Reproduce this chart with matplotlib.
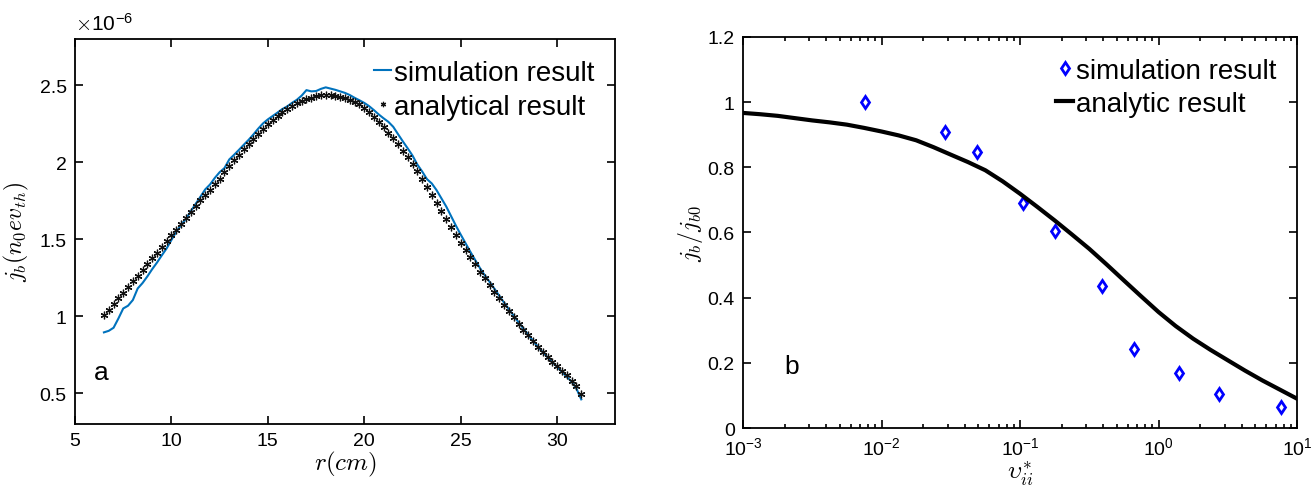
import numpy as np
import matplotlib
matplotlib.use("Agg")
import matplotlib.pyplot as plt
from matplotlib.ticker import LogLocator, NullFormatter, FixedLocator

plt.rcParams['font.family'] = ['Liberation Sans', 'DejaVu Sans']
plt.rcParams['mathtext.fontset'] = 'cm'

# panel a: radial profile (values in units of 1e-6)
r_cm = [6.5, 6.75, 7.0, 7.25, 7.5, 7.75, 8.0, 8.25, 8.5, 8.75,
        9.0, 9.25, 9.5, 9.75, 10.0, 10.25, 10.5, 10.75, 11.0, 11.25,
        11.5, 11.75, 12.0, 12.25, 12.5, 12.75, 13.0, 13.25, 13.5, 13.75,
        14.0, 14.25, 14.5, 14.75, 15.0, 15.25, 15.5, 15.75, 16.0, 16.25,
        16.5, 16.75, 17.0, 17.25, 17.5, 17.75, 18.0, 18.25, 18.5, 18.75,
        19.0, 19.25, 19.5, 19.75, 20.0, 20.25, 20.5, 20.75, 21.0, 21.25,
        21.5, 21.75, 22.0, 22.25, 22.5, 22.75, 23.0, 23.25, 23.5, 23.75,
        24.0, 24.25, 24.5, 24.75, 25.0, 25.25, 25.5, 25.75, 26.0, 26.25,
        26.5, 26.75, 27.0, 27.25, 27.5, 27.75, 28.0, 28.25, 28.5, 28.75,
        29.0, 29.25, 29.5, 29.75, 30.0, 30.25, 30.5, 30.75, 31.0, 31.25]

jb_analytic = [1.005, 1.041, 1.078, 1.115, 1.152, 1.189, 1.226, 1.263, 1.300, 1.337,
               1.375, 1.412, 1.450, 1.487, 1.525, 1.562, 1.600, 1.639, 1.678, 1.715,
               1.752, 1.787, 1.822, 1.857, 1.892, 1.935, 1.978, 2.013, 2.048, 2.083,
               2.117, 2.151, 2.184, 2.216, 2.248, 2.274, 2.300, 2.324, 2.347, 2.365,
               2.383, 2.397, 2.410, 2.420, 2.430, 2.434, 2.436, 2.435, 2.432, 2.425,
               2.415, 2.404, 2.392, 2.376, 2.354, 2.324, 2.292, 2.260, 2.228, 2.192,
               2.155, 2.115, 2.075, 2.032, 1.988, 1.940, 1.892, 1.838, 1.785, 1.732,
               1.680, 1.629, 1.578, 1.527, 1.476, 1.429, 1.382, 1.336, 1.290, 1.246,
               1.203, 1.160, 1.117, 1.074, 1.032, 0.992, 0.952, 0.913, 0.875, 0.839,
               0.803, 0.768, 0.733, 0.703, 0.675, 0.645, 0.615, 0.580, 0.545, 0.495]

jb_sim = [0.895, 0.905, 0.925, 0.985, 1.050, 1.068, 1.105, 1.180, 1.215, 1.258,
          1.305, 1.348, 1.395, 1.440, 1.495, 1.548, 1.592, 1.632, 1.680, 1.728,
          1.775, 1.823, 1.855, 1.898, 1.935, 1.962, 2.018, 2.048, 2.080, 2.113,
          2.145, 2.180, 2.218, 2.252, 2.278, 2.300, 2.322, 2.345, 2.362, 2.385,
          2.405, 2.432, 2.468, 2.460, 2.462, 2.476, 2.486, 2.478, 2.470, 2.460,
          2.450, 2.436, 2.418, 2.402, 2.385, 2.364, 2.338, 2.310, 2.285, 2.262,
          2.230, 2.182, 2.135, 2.090, 2.043, 1.985, 1.940, 1.890, 1.862, 1.818,
          1.765, 1.712, 1.650, 1.588, 1.530, 1.474, 1.418, 1.365, 1.312, 1.265,
          1.222, 1.178, 1.132, 1.088, 1.045, 1.003, 0.960, 0.920, 0.880, 0.840,
          0.802, 0.767, 0.734, 0.702, 0.670, 0.638, 0.606, 0.575, 0.530, 0.460]

# panel b: collisionality scan
nu_sim = [0.0076, 0.0286, 0.049, 0.1045, 0.180, 0.394, 0.66, 1.41, 2.75, 7.7]
ratio_sim = [1.0, 0.907, 0.846, 0.690, 0.606, 0.437, 0.241, 0.168, 0.104, 0.064]

nu_an = [0.001, 0.00133, 0.00178, 0.00237, 0.00316, 0.00422, 0.00562, 0.0075,
         0.01, 0.0133, 0.0178, 0.0237, 0.0316, 0.0422, 0.0562, 0.075,
         0.1, 0.133, 0.178, 0.237, 0.316, 0.422, 0.562, 0.75,
         1.0, 1.33, 1.78, 2.37, 3.16, 4.22, 5.62, 7.5, 10.0]
ratio_an = [0.967, 0.963, 0.958, 0.951, 0.944, 0.938, 0.931, 0.921,
            0.910, 0.898, 0.883, 0.862, 0.839, 0.816, 0.791, 0.757,
            0.719, 0.679, 0.637, 0.594, 0.550, 0.502, 0.453, 0.404,
            0.356, 0.313, 0.274, 0.240, 0.208, 0.176, 0.146, 0.118, 0.090]

W, H = 1315, 489
fig = plt.figure(figsize=(W / 100, H / 100), dpi=100)

# ---- panel a
ax1 = fig.add_axes([75 / W, 1 - 425 / H, 540 / W, 385 / H])
ax1.plot(r_cm, jb_sim, color='#0072BD', lw=1.5, label='simulation result')
ax1.plot(r_cm, jb_analytic, ls='none', marker=(6, 2, 0), color='#111111', ms=5.5,
         markeredgewidth=0.9, label='analytical result')
ax1.set_xlim(5, 33)
ax1.set_ylim(0.3, 2.8)
ax1.set_xticks([5, 10, 15, 20, 25, 30])
ax1.set_yticks([0.5, 1, 1.5, 2, 2.5])
ax1.set_yticklabels(['0.5', '1', '1.5', '2', '2.5'])
ax1.set_xlabel(r'$r(cm)$', fontsize=18, labelpad=0)
ax1.set_ylabel(r'$j_b(n_0ev_{th})$', fontsize=17, labelpad=6)
ax1.text(0.0, 1.01, r'$\times$10$^{\mathregular{-6}}$', transform=ax1.transAxes,
         fontsize=15, ha='left', va='bottom')
ax1.text(6.0, 0.64, 'a', fontsize=19, va='center')
ax1.legend(loc='upper right', frameon=False, fontsize=20, handlelength=0.6,
           handletextpad=0.1, borderaxespad=0.35, labelspacing=0.3,
           markerscale=0.7)

# ---- panel b
ax2 = fig.add_axes([743 / W, 1 - 429 / H, 554 / W, 391 / H])
ax2.plot(nu_sim, ratio_sim, ls='none', marker='d', ms=6, mfc='none',
         mec='blue', mew=2, label='simulation result')
ax2.plot(nu_an, ratio_an, color='black', lw=3, label='analytic result')
ax2.set_xscale('log')
ax2.set_xlim(1e-3, 1e1)
ax2.set_ylim(0, 1.2)
ax2.set_yticks([0, 0.2, 0.4, 0.6, 0.8, 1.0, 1.2])
ax2.set_yticklabels(['0', '0.2', '0.4', '0.6', '0.8', '1', '1.2'])
ax2.xaxis.set_major_locator(FixedLocator([1e-3, 1e-2, 1e-1, 1e0, 1e1]))
ax2.xaxis.set_minor_locator(LogLocator(base=10, subs=np.arange(2, 10), numticks=20))
ax2.xaxis.set_minor_formatter(NullFormatter())
ax2.set_xlabel(r'$\upsilon_{ii}^{*}$', fontsize=18, labelpad=0)
ax2.set_ylabel(r'$j_b/j_{b0}$', fontsize=17, labelpad=2)
ax2.text(2.0e-3, 0.19, 'b', fontsize=19, va='center')
ax2.legend(loc='upper right', frameon=False, fontsize=20, handlelength=0.6,
           handletextpad=0.1, borderaxespad=0.35, labelspacing=0.25)

for ax in (ax1, ax2):
    ax.tick_params(which='both', direction='in', top=True, right=True,
                   labelsize=14, width=1.2, pad=6)
    ax.tick_params(which='major', length=6)
    ax.tick_params(which='minor', length=3)
    for s in ax.spines.values():
        s.set_linewidth(1.3)

fig.savefig('out.png', dpi=100)
